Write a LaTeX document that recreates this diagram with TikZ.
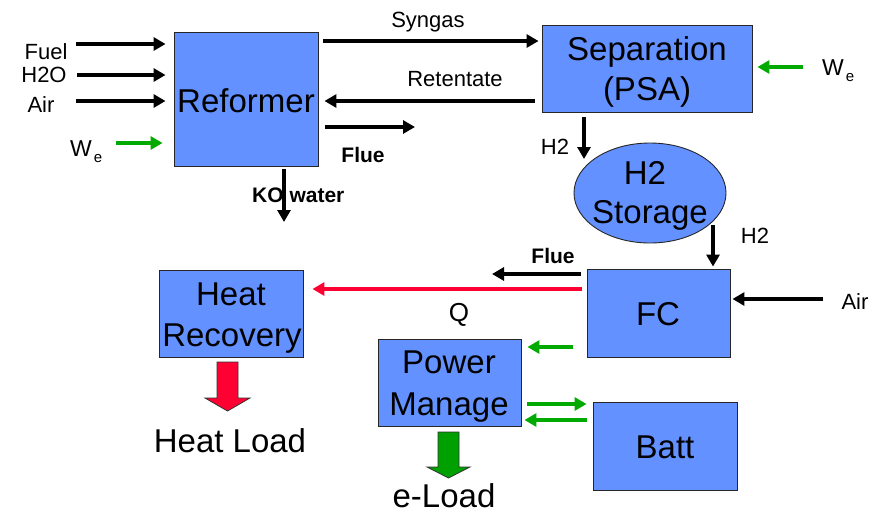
\documentclass[tikz,border=0pt]{standalone}
\usepackage{fontspec}
\setmainfont{Liberation Sans}
\usetikzlibrary{arrows.meta,shapes.geometric}
\definecolor{boxblue}{RGB}{99,145,255}
\definecolor{flowgreen}{RGB}{0,170,0}
\definecolor{flowred}{RGB}{255,0,51}
\definecolor{blockgreen}{RGB}{0,160,0}
\begin{document}
\begin{tikzpicture}[x=1pt,y=-1pt,
  box/.style={draw=black!85, line width=0.9pt, fill=boxblue, minimum width=144pt, minimum height=87pt, inner sep=0pt},
  big/.style={font=\fontsize{33}{40}\selectfont, anchor=base, inner sep=0pt},
  lbl/.style={font=\fontsize{22}{26}\selectfont, anchor=base, inner sep=0pt},
  blbl/.style={font=\bfseries\fontsize{21}{26}\selectfont, anchor=base, inner sep=0pt},
  arr/.style={line width=3.6pt, -{Triangle[length=12pt,width=13pt]}},
  garr/.style={arr, draw=flowgreen, fill=flowgreen},
  rarr/.style={line width=3.2pt, draw=flowred, -{Triangle[length=12pt,width=13pt,fill=flowred]}},
  blockarrow/.style={draw=black!80, line width=0.8pt}
]
\fill[white] (0,0) rectangle (872,515);
\useasboundingbox (0,0) rectangle (872,515);

% boxes
\node[box, minimum height=134pt] (ref) at (246,99) {};
\node[box, minimum width=210pt] (sep) at (647,68.5) {};
\node[ellipse, draw=black!85, line width=0.9pt, fill=boxblue, minimum width=152pt, minimum height=100pt, inner sep=0pt] (sto) at (650,193) {};
\node[box, minimum width=143pt, minimum height=88pt] (fc) at (658.5,313) {};
\node[box] (hr) at (231,313.5) {};
\node[box, minimum width=143pt] (pm) at (449.5,382.5) {};
\node[box, minimum height=88pt] (batt) at (665,446) {};

% box texts
\node[big] (refT) at (246,112) {Reformer};
\node[big] (sepT1) at (647,60) {Separation};
\node[big] (sepT2) at (647,100) {(PSA)};
\node[big] (stoT1) at (645,184) {H2};
\node[big] (stoT2) at (650,223) {Storage};
\node[big] (fcT) at (658,325) {FC};
\node[big] (hrT1) at (231,305) {Heat};
\node[big] (hrT2) at (232,346) {Recovery};
\node[big] (pmT1) at (449,373) {Power};
\node[big] (pmT2) at (449,415) {Manage};
\node[big] (battT) at (665,458) {Batt};
\node[big] (heatload) at (230,452) {Heat Load};
\node[big] (eload) at (444,507) {e-Load};

% labels
\node[lbl] (lfuel) at (46,59) {Fuel};
\node[lbl] (lh2o) at (44,82) {H2O};
\node[lbl] (lair) at (41,112) {Air};
\node[lbl, anchor=base west, font=\fontsize{23}{26}\selectfont] (lwe1) at (70,156) {W\kern2pt\raisebox{-6pt}{\fontsize{15}{15}\selectfont e}};
\node[lbl, anchor=base west, font=\fontsize{23}{26}\selectfont] (lwe2) at (822,75) {W\kern2pt\raisebox{-6pt}{\fontsize{15}{15}\selectfont e}};
\node[lbl] (lsyn) at (428,27) {Syngas};
\node[lbl] (lret) at (455,86) {Retentate};
\node[blbl] (lflue1) at (363,162) {Flue};
\node[blbl, anchor=base west] (lko) at (252,202) {KO water};
\node[lbl] (lh2a) at (555,154) {H2};
\node[lbl] (lh2b) at (755,243) {H2};
\node[blbl] (lflue2) at (553,263) {Flue};
\node[lbl, font=\fontsize{26}{30}\selectfont] (lq) at (459,321) {Q};
\node[lbl] (lairfc) at (855,309) {Air};

% free ends
\coordinate (fuelin) at (76,44);
\coordinate (h2oin) at (77,75);
\coordinate (airin) at (76,101);
\coordinate (wein) at (116,143);
\coordinate (flueout) at (415,127);
\coordinate (koout) at (284,222);
\coordinate (h2atip) at (584,159);
\coordinate (h2bstart) at (713,225);
\coordinate (wesep) at (803,67);
\coordinate (airfcin) at (823,299);
\coordinate (fluefc) at (492,274);

% connectors
\draw[arr, shorten >=8pt] (fuelin) -- (ref.west |- fuelin);
\draw[arr, shorten >=8pt] (h2oin) -- (ref.west |- h2oin);
\draw[arr, shorten >=8pt] (airin) -- (ref.west |- airin);
\draw[garr, shorten >=11pt] (wein) -- (ref.west |- wein);
\draw[arr, shorten <=5pt, shorten >=3pt] (ref.east |- 0,41) -- (sep.west |- 0,41);
\draw[arr, shorten <=7pt, shorten >=6pt] (sep.west |- 0,101) -- (ref.east |- 0,101);
\draw[arr, shorten <=7pt] (ref.east |- flueout) -- (flueout);
\draw[arr, shorten <=3pt] (ref.south -| koout) -- (koout);
\draw[arr, shorten <=5pt] (sep.south -| h2atip) -- (h2atip);
\draw[arr, shorten >=2pt] (h2bstart) -- (fc.north -| h2bstart);
\draw[garr, shorten >=5pt] (wesep) -- (sep.east |- wesep);
\draw[arr, shorten >=2pt] (airfcin) -- (fc.east |- airfcin);
\draw[arr, shorten <=6pt] (fc.west |- fluefc) -- (fluefc);
\draw[rarr, shorten <=5pt, shorten >=9pt] (fc.west |- 0,289) -- (hr.east |- 0,289);
\draw[garr, shorten <=14pt, shorten >=6pt] (fc.west |- 0,347) -- (pm.east |- 0,347);
\draw[garr, shorten <=6pt, shorten >=6pt] (pm.east |- 0,404) -- (batt.west |- 0,404);
\draw[garr, shorten <=6pt, shorten >=3pt] (batt.west |- 0,420) -- (pm.east |- 0,420);

% block arrows
\draw[blockarrow, fill=flowred] (217,362) -- (238,362) -- (238,398) -- (250,398) -- (227.5,411) -- (205,398) -- (217,398) -- cycle;
\draw[blockarrow, fill=blockgreen] (438,432) -- (459,432) -- (459,467) -- (470,467) -- (448.5,478) -- (427,467) -- (438,467) -- cycle;
\end{tikzpicture}
\end{document}
